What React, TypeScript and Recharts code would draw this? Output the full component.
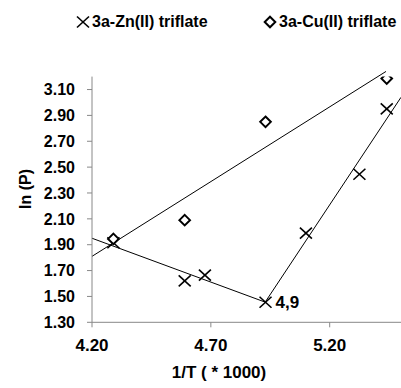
import React from 'react';
import { ComposedChart, Scatter, XAxis, YAxis, ReferenceLine, LabelList, Label } from 'recharts';

// 1/T (*1000) and ln(P)
const znX = [4.29, 4.59, 4.675, 4.93, 5.10, 5.325, 5.44];
const znY = [1.915, 1.62, 1.665, 1.455, 1.99, 2.445, 2.95];
const znNote = ['', '', '', '4,9', '', '', ''];
const cuX = [4.29, 4.59, 4.93, 5.44];
const cuY = [1.945, 2.09, 2.85, 3.185];

// trend line end points
const znLeftLine = [{ x: 4.2, y: 1.95 }, { x: 4.93, y: 1.455 }];
const znRightLine = [{ x: 4.93, y: 1.46 }, { x: 5.5, y: 3.04 }];
const cuLine = [{ x: 4.2, y: 1.81 }, { x: 5.437, y: 3.24 }];

const xTicks = [4.2, 4.7, 5.2];
const yTicks = [1.3, 1.5, 1.7, 1.9, 2.1, 2.3, 2.5, 2.7, 2.9, 3.1];

const znData = znX.map((x, i) => ({ x, y: znY[i], note: znNote[i] }));
const cuData = cuX.map((x, i) => ({ x, y: cuY[i] }));

const FONT = '"Liberation Sans", Arial, sans-serif';

const Cross = (props: any) => {
    const { cx, cy } = props;
    if (cx == null || cy == null) return null;
    return (
        <g stroke="#000" strokeWidth={1.6}>
            <line x1={cx - 6} y1={cy - 5.5} x2={cx + 6} y2={cy + 5.5} />
            <line x1={cx - 6} y1={cy + 5.5} x2={cx + 6} y2={cy - 5.5} />
        </g>
    );
};

const Diamond = (props: any) => {
    const { cx, cy } = props;
    if (cx == null || cy == null) return null;
    const r = 5.3;
    return (
        <path
            d={`M${cx},${cy - r}L${cx + r},${cy}L${cx},${cy + r}L${cx - r},${cy}Z`}
            fill="#fff"
            stroke="#000"
            strokeWidth={2}
        />
    );
};

const NoteLabel = (props: any) => {
    const { x, y, width, height, value } = props;
    if (!value) return null;
    return (
        <text
            x={x + width / 2 + 10}
            y={y + height / 2}
            dominantBaseline="central"
            fontFamily={FONT}
            fontWeight="bold"
            fontSize={17}
            fill="#000"
        >
            {value}
        </text>
    );
};

const yTickStyle = { fontFamily: FONT, fontWeight: 'bold', fontSize: 16, fill: '#000' };
const xTickStyle = { fontFamily: FONT, fontWeight: 'bold', fontSize: 17, fill: '#000' };

const App: React.FC = () => {
    return (
        <div style={{ position: 'absolute', left: 0, top: 0, width: 401, height: 388, background: '#fff' }}>
            <div style={{ position: 'absolute', left: 0, top: 0, width: 401, height: 40, fontFamily: FONT, fontWeight: 'bold', fontSize: 16, lineHeight: '16px' }}>
                <svg style={{ position: 'absolute', left: 76, top: 15 }} width={14} height={14}>
                    <g stroke="#000" strokeWidth={1.6}>
                        <line x1={1} y1={1.5} x2={13} y2={12.5} />
                        <line x1={1} y1={12.5} x2={13} y2={1.5} />
                    </g>
                </svg>
                <span style={{ position: 'absolute', left: 92, top: 14, whiteSpace: 'nowrap' }}>3a-Zn(II) triflate</span>
                <svg style={{ position: 'absolute', left: 263, top: 15 }} width={14} height={14}>
                    <path d="M7,1.7L12.3,7L7,12.3L1.7,7Z" fill="#fff" stroke="#000" strokeWidth={2} />
                </svg>
                <span style={{ position: 'absolute', left: 279, top: 14, whiteSpace: 'nowrap' }}>3a-Cu(II) triflate</span>
            </div>
            <ComposedChart
                width={401}
                height={388}
                margin={{ top: 76.6, right: 0, bottom: 0, left: 0 }}
                style={{ position: 'absolute', left: 0, top: 0 }}
            >
                <XAxis
                    type="number"
                    dataKey="x"
                    domain={[4.2, 5.5]}
                    ticks={xTicks}
                    tickFormatter={(v: number) => v.toFixed(2)}
                    allowDataOverflow
                    height={65.7}
                    stroke="#888"
                    tickSize={5}
                    tickMargin={12}
                    tick={xTickStyle}
                >
                    <Label
                        content={() => (
                            <text x={219} y={372} textAnchor="middle" dominantBaseline="central" fontFamily={FONT} fontWeight="bold" fontSize={17} fill="#000">
                                1/T ( * 1000)
                            </text>
                        )}
                    />
                </XAxis>
                <YAxis
                    type="number"
                    dataKey="y"
                    domain={[1.3, 3.2]}
                    ticks={yTicks}
                    tickFormatter={(v: number) => v.toFixed(2)}
                    allowDataOverflow
                    width={92}
                    stroke="#888"
                    tickSize={5}
                    tickMargin={12}
                    tick={yTickStyle}
                >
                    <Label
                        content={() => (
                            <text x={25.5} y={189} transform="rotate(-90 25.5 189)" textAnchor="middle" dominantBaseline="central" fontFamily={FONT} fontWeight="bold" fontSize={16} fill="#000">
                                ln (P)
                            </text>
                        )}
                    />
                </YAxis>
                <ReferenceLine segment={cuLine} stroke="#000" strokeWidth={1} ifOverflow="visible" />
                <ReferenceLine segment={znLeftLine} stroke="#000" strokeWidth={1} ifOverflow="visible" />
                <ReferenceLine segment={znRightLine} stroke="#000" strokeWidth={1} ifOverflow="visible" />
                <Scatter name="3a-Zn(II) triflate" data={znData} dataKey="y" shape={<Cross />} isAnimationActive={false}>
                    <LabelList dataKey="note" content={<NoteLabel />} />
                </Scatter>
                <Scatter name="3a-Cu(II) triflate" data={cuData} dataKey="y" shape={<Diamond />} isAnimationActive={false} />
            </ComposedChart>
        </div>
    );
};

export default App;
